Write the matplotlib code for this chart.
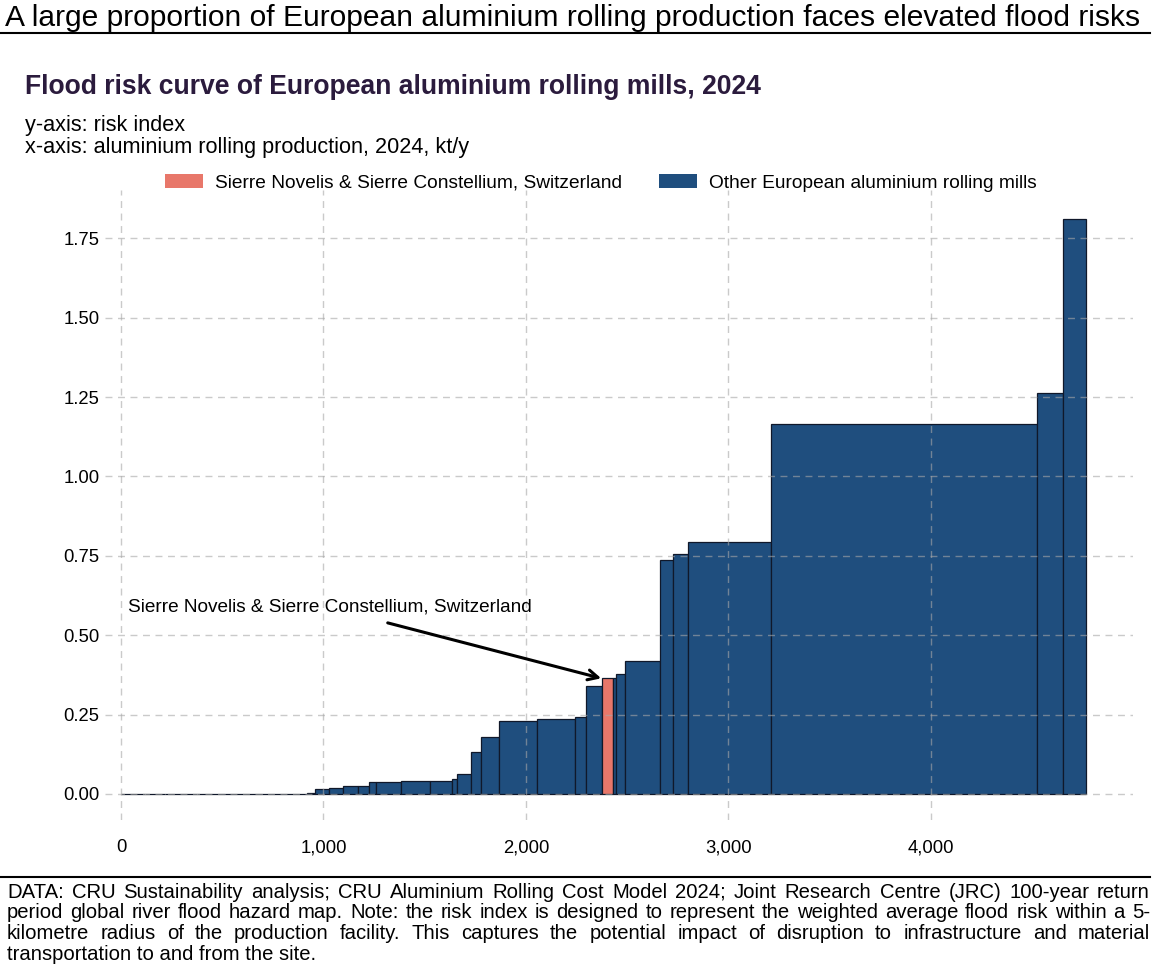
import numpy as np
import matplotlib
matplotlib.use("Agg")
import matplotlib.pyplot as plt
from matplotlib.patches import Patch
from matplotlib.lines import Line2D

plt.rcParams['font.family'] = ['Liberation Sans', 'DejaVu Sans']

# production of each mill, kt/y (sorted by risk), and its flood risk index
capacity = [120, 95, 160, 140, 180, 222, 41, 71, 66, 74, 56, 36, 123, 142, 110, 23, 70,
            49, 90, 187, 185, 56, 78, 57, 12, 44, 175, 62, 77, 411, 1311, 131, 113]
risk = [0, 0, 0, 0, 0, 0, 0.004, 0.016, 0.020, 0.025, 0.026, 0.037, 0.037,
        0.042, 0.042, 0.046, 0.063, 0.131, 0.180, 0.231, 0.236, 0.242, 0.341, 0.366,
        0.366, 0.378, 0.420, 0.737, 0.755, 0.794, 1.164, 1.263, 1.812]
highlight = 23  # Sierre Novelis & Sierre Constellium

blue = '#1f4e7e'
red = '#e8776a'

W, H = 1158, 976
fig = plt.figure(figsize=(W / 100, H / 100), dpi=100)
ax = fig.add_axes([105 / W, 1 - 820 / H, 1028 / W, 630 / H])

left = np.concatenate([[0], np.cumsum(capacity)[:-1]])
colors = [red if i == highlight else blue for i in range(len(capacity))]
ax.bar(left, risk, width=capacity, align='edge', color=colors,
       edgecolor='#10182a', linewidth=0.9, zorder=1)

ax.set_xlim(-79, 4998)
ax.set_ylim(-0.082, 1.902)
ax.set_xticks([0, 1000, 2000, 3000, 4000])
ax.set_xticklabels(['0', '1,000', '2,000', '3,000', '4,000'])
ax.set_yticks([0, 0.25, 0.5, 0.75, 1.0, 1.25, 1.5, 1.75])
ax.set_yticklabels(['0.00', '0.25', '0.50', '0.75', '1.00', '1.25', '1.50', '1.75'])
ax.tick_params(axis='both', length=0, labelsize=13.3, colors='black')
ax.tick_params(axis='x', pad=14)
ax.tick_params(axis='y', pad=4)
for s in ax.spines.values():
    s.set_visible(False)
ax.set_axisbelow(False)
ax.grid(True, color='#a8a8a8', alpha=0.6, linestyle=(0, (5, 4)), linewidth=1)

# annotation
ax.text(35, 0.589, 'Sierre Novelis & Sierre Constellium, Switzerland',
        fontsize=13.7, va='center', ha='left', zorder=5)
ax.annotate('', xy=(2385, 0.362), xytext=(1304, 0.541),
            arrowprops=dict(arrowstyle='->', lw=2.2, color='black', mutation_scale=18),
            zorder=5)

# titles
fig.text(5 / W, 1 - 18 / H, 'A large proportion of European aluminium rolling production faces elevated flood risks',
         fontsize=21.6, va='center', ha='left')
fig.add_artist(Line2D([0, 1150 / W], [1 - 33 / H, 1 - 33 / H], color='black', lw=1.5))
fig.text(25 / W, 1 - 87 / H, 'Flood risk curve of European aluminium rolling mills, 2024',
         fontsize=19.1, fontweight='bold', color='#2b1b3d', va='center', ha='left')
fig.text(25 / W, 1 - 125 / H, 'y-axis: risk index', fontsize=15.6, va='center', ha='left')
fig.text(25 / W, 1 - 148 / H, 'x-axis: aluminium rolling production, 2024, kt/y',
         fontsize=15.6, va='center', ha='left')

# legend
handles = [Patch(facecolor=red, label='Sierre Novelis & Sierre Constellium, Switzerland'),
           Patch(facecolor=blue, label='Other European aluminium rolling mills')]
fig.legend(handles=handles, loc='center left', bbox_to_anchor=(165 / W, 1 - 183 / H),
           ncol=2, frameon=False, fontsize=13.8, handlelength=2.0, handleheight=0.75,
           handletextpad=0.62, columnspacing=1.9, borderpad=0, borderaxespad=0)

# footer
fig.add_artist(Line2D([0, 1150 / W], [1 - 877 / H, 1 - 877 / H], color='black', lw=1.5))
footer = [
    'DATA: CRU Sustainability analysis; CRU Aluminium Rolling Cost Model 2024; Joint Research Centre (JRC) 100-year return',
    'period global river flood hazard map. Note: the risk index is designed to represent the weighted average flood risk within a 5-',
    'kilometre radius of the production facility. This captures the potential impact of disruption to infrastructure and material',
    'transportation to and from the site.',
]
renderer = fig.canvas.get_renderer()
x0, x1 = 7, 1150
fs = 14.6
for k, line in enumerate(footer):
    y = 1 - (892 + 20.7 * k) / H
    if k == len(footer) - 1:
        fig.text(x0 / W, y, line, fontsize=fs, va='center', ha='left')
        continue
    words = line.split()
    texts = [fig.text(0, y, w, fontsize=fs, va='center', ha='left') for w in words]
    widths = [t.get_window_extent(renderer).width for t in texts]
    gap = (x1 - x0 - sum(widths)) / (len(words) - 1)
    x = x0
    for t, w in zip(texts, widths):
        t.set_x(x / W)
        x += w + gap

fig.savefig('out.png', dpi=100)
